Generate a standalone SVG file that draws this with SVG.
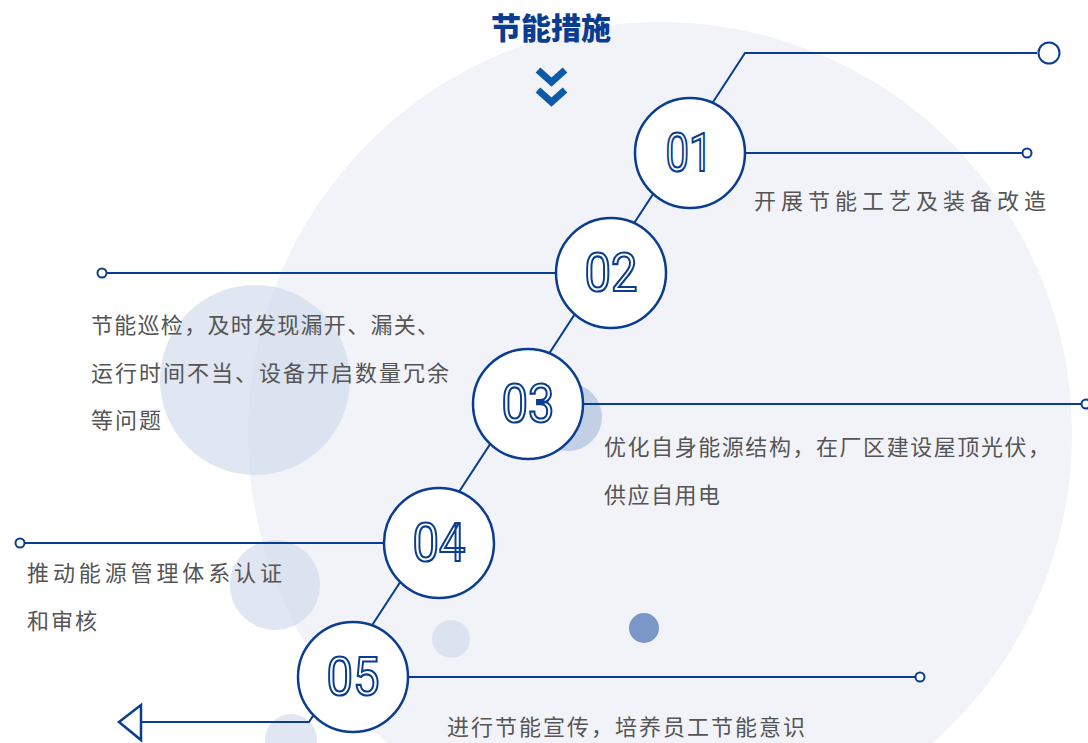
<svg xmlns="http://www.w3.org/2000/svg" width="1088" height="743" viewBox="0 0 1088 743">
<style>
.ln{fill:none;stroke:#0a3d91;stroke-width:2}
.dot{fill:#fff;stroke:#0a3d91;stroke-width:2}
.node{fill:#fff;stroke:#0a3d91;stroke-width:2.5}
.num{font-family:Roboto,"Liberation Sans",sans-serif;font-size:53px;fill:#fff;stroke:#0a3d91;stroke-width:2.2;text-anchor:middle}
.t{font-family:"Noto Sans CJK SC","Noto Sans",sans-serif;font-size:22px;fill:#555}
.deco{fill:#d3dcec;opacity:0.7}
</style>
<rect width="1088" height="743" fill="#fff"/>
<g id="background">
<circle cx="660" cy="434" r="412" fill="#f2f3f8"/>
<circle cx="255" cy="380" r="95" class="deco"/>
<circle cx="275" cy="585" r="45" class="deco"/>
<circle cx="291" cy="740" r="26" class="deco"/>
<circle cx="451" cy="639" r="19" class="deco"/>
<circle cx="644" cy="628" r="15" fill="#7b97c7"/>
<circle cx="568" cy="417" r="34" fill="#c3cfe5"/>
</g>
<g id="title">
<text x="551" y="39" font-family="'Noto Sans CJK SC',sans-serif" font-size="30" font-weight="900" fill="#0a3d91" text-anchor="middle">节能措施</text>
<polyline points="538,70 551.5,82 565,70" fill="none" stroke="#0b5ba8" stroke-width="7"/>
<polyline points="538,90 551.5,102 565,90" fill="none" stroke="#0b5ba8" stroke-width="7"/>
</g>
<g id="connectors">
<polyline class="ln" points="1037,53 745,53 309,722 141,722"/>
<polygon points="119,722 141,705 141,740" fill="#fff" stroke="#0a3d91" stroke-width="2.5"/>
<line class="ln" x1="745" y1="153" x2="1022" y2="153"/>
<line class="ln" x1="556" y1="273" x2="107" y2="273"/>
<line class="ln" x1="583" y1="404" x2="1081" y2="404"/>
<line class="ln" x1="384" y1="543" x2="25" y2="543"/>
<line class="ln" x1="408" y1="677" x2="915" y2="677"/>
<circle class="dot" cx="1049" cy="53" r="10.5"/>
<circle class="dot" cx="1027" cy="153" r="4.5"/>
<circle class="dot" cx="102" cy="273" r="4.5"/>
<circle class="dot" cx="1086" cy="404" r="4.5"/>
<circle class="dot" cx="20" cy="543" r="4.5"/>
<circle class="dot" cx="920" cy="677" r="4.5"/>
</g>
<g id="node1">
<circle class="node" cx="690" cy="153" r="55"/>
<text class="num" x="689" y="171" textLength="47" lengthAdjust="spacingAndGlyphs">01</text>
<text class="t" x="754" y="209" font-size="23" textLength="292">开展节能工艺及装备改造</text>
</g>
<g id="node2">
<circle class="node" cx="611" cy="273" r="55"/>
<text class="num" x="611" y="291" textLength="53" lengthAdjust="spacingAndGlyphs">02</text>
<text class="t" x="91" y="333" textLength="348">节能巡检，及时发现漏开、漏关、</text>
<text class="t" x="91" y="381" textLength="358">运行时间不当、设备开启数量冗余</text>
<text class="t" x="91" y="428" textLength="70">等问题</text>
</g>
<g id="node3">
<circle class="node" cx="528" cy="404" r="55"/>
<text class="num" x="528" y="422" textLength="53" lengthAdjust="spacingAndGlyphs">03</text>
<text class="t" x="604" y="455" textLength="446">优化自身能源结构，在厂区建设屋顶光伏，</text>
<text class="t" x="604" y="503" textLength="116">供应自用电</text>
</g>
<g id="node4">
<circle class="node" cx="439" cy="543" r="55"/>
<text class="num" x="439" y="561" textLength="53" lengthAdjust="spacingAndGlyphs">04</text>
<text class="t" x="27" y="581" textLength="255">推动能源管理体系认证</text>
<text class="t" x="27" y="629" textLength="70">和审核</text>
</g>
<g id="node5">
<circle class="node" cx="353" cy="677" r="55"/>
<text class="num" x="353" y="695" textLength="53" lengthAdjust="spacingAndGlyphs">05</text>
<text class="t" x="447" y="735" textLength="358">进行节能宣传，培养员工节能意识</text>
</g>
</svg>
